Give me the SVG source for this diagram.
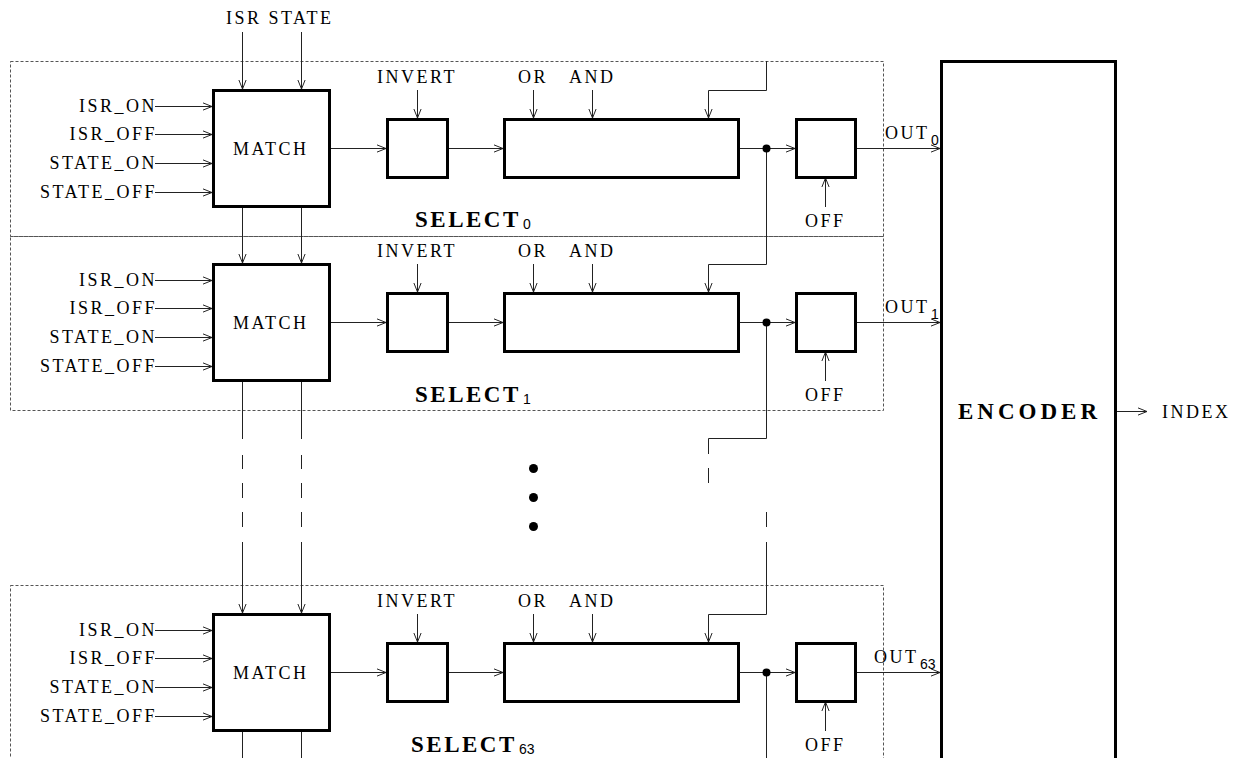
<svg xmlns="http://www.w3.org/2000/svg" width="1240" height="758" viewBox="0 0 1240 758">
<defs>
<style>
.t{font-family:"Liberation Serif","DejaVu Serif",serif;font-size:18px;letter-spacing:2.5px;fill:#000}
.e{text-anchor:end}
.b{font-family:"Liberation Serif","DejaVu Serif",serif;font-size:23px;font-weight:bold;letter-spacing:2.5px;fill:#000}
.s{font-family:"Liberation Sans","DejaVu Sans",sans-serif;font-size:14px;fill:#000}
.box{fill:#fff;stroke:#000;stroke-width:3}
.ln{fill:none;stroke:#222;stroke-width:1}
.ar{fill:none;stroke:#222;stroke-width:1;marker-end:url(#a)}
.frame{fill:none;stroke:#555;stroke-width:1;stroke-dasharray:3 2}
</style>
<marker id="a" viewBox="0 0 10 10" refX="10" refY="5" markerWidth="9" markerHeight="9" markerUnits="userSpaceOnUse" orient="auto">
<path d="M0,1 L10,5 L0,9" fill="none" stroke="#222" stroke-width="1.1"/>
</marker>
</defs>
<rect width="1240" height="758" fill="#fff"/>

<g id="frames">
<rect class="frame" x="10.5" y="61.5" width="873" height="175"/>
<rect class="frame" x="10.5" y="236.5" width="873" height="174"/>
<rect class="frame" x="10.5" y="585.5" width="873" height="200"/>
</g>

<g id="connectors">
<path class="ar" d="M242.5,32 V89"/>
<path class="ar" d="M301.5,32 V89"/>
<path class="ar" d="M242.5,207 V263"/>
<path class="ar" d="M301.5,207 V263"/>
<path class="ln" d="M242.5,382 V439 M242.5,455 V469 M242.5,483 V498 M242.5,512 V527"/>
<path class="ln" d="M301.5,382 V439 M301.5,455 V469 M301.5,483 V498 M301.5,512 V527"/>
<path class="ar" d="M242.5,542 V613"/>
<path class="ar" d="M301.5,542 V613"/>
<path class="ln" d="M242.5,731 V758 M301.5,731 V758"/>

<path class="ar" d="M155,106.5 H212"/>
<path class="ar" d="M155,134.5 H212"/>
<path class="ar" d="M155,163.5 H212"/>
<path class="ar" d="M155,192.5 H212"/>
<path class="ar" d="M155,280.5 H212"/>
<path class="ar" d="M155,308.5 H212"/>
<path class="ar" d="M155,337.5 H212"/>
<path class="ar" d="M155,366.5 H212"/>
<path class="ar" d="M155,630.5 H212"/>
<path class="ar" d="M155,658.5 H212"/>
<path class="ar" d="M155,687.5 H212"/>
<path class="ar" d="M155,716.5 H212"/>

<path class="ar" d="M329,148.5 H386"/>
<path class="ar" d="M447,148.5 H503"/>
<path class="ar" d="M738,148.5 H795"/>
<path class="ar" d="M329,322.5 H386"/>
<path class="ar" d="M447,322.5 H503"/>
<path class="ar" d="M738,322.5 H795"/>
<path class="ar" d="M329,672.5 H386"/>
<path class="ar" d="M447,672.5 H503"/>
<path class="ar" d="M738,672.5 H795"/>

<path class="ar" d="M417.5,90 V118"/>
<path class="ar" d="M533.5,90 V118"/>
<path class="ar" d="M592.5,90 V118"/>
<path class="ar" d="M417.5,264 V292"/>
<path class="ar" d="M533.5,264 V292"/>
<path class="ar" d="M592.5,264 V292"/>
<path class="ar" d="M417.5,614 V642"/>
<path class="ar" d="M533.5,614 V642"/>
<path class="ar" d="M592.5,614 V642"/>

<path class="ar" d="M825.5,207 V178"/>
<path class="ar" d="M825.5,381 V352"/>
<path class="ar" d="M825.5,731 V702"/>

<path class="ar" d="M855,148.5 H940"/>
<path class="ar" d="M855,322.5 H940"/>
<path class="ar" d="M855,672.5 H940"/>

<path class="ar" d="M766.5,61 V90.5 H708.5 V118"/>
<path class="ar" d="M766.5,148 V264.5 H708.5 V292"/>
<path class="ln" d="M766.5,322 V438.5 H708.5 V454 M708.5,468 V483"/>
<path class="ln" d="M766.5,512 V527"/>
<path class="ar" d="M766.5,542 V614.5 H708.5 V642"/>
<path class="ln" d="M766.5,672 V758"/>

<path class="ar" d="M1116,411.5 H1147"/>

<circle cx="766.5" cy="148.5" r="4" fill="#000"/>
<circle cx="766.5" cy="322.5" r="4" fill="#000"/>
<circle cx="766.5" cy="672.5" r="4" fill="#000"/>
</g>

<g id="isr-state-label">
<text class="t" x="226" y="24">ISR STATE</text>
</g>

<g id="select0">
<g id="select0-inputs">
<text class="t e" x="157" y="112">ISR_ON</text>
<text class="t e" x="157" y="140">ISR_OFF</text>
<text class="t e" x="157" y="169">STATE_ON</text>
<text class="t e" x="157" y="198">STATE_OFF</text>
</g>
<g id="match0"><rect class="box" x="213.5" y="90.5" width="116" height="116"/><text class="t" x="233" y="155">MATCH</text></g>
<g id="invert0"><rect class="box" x="387.5" y="119.5" width="60" height="58"/><text class="t" x="377" y="83">INVERT</text></g>
<g id="logic0"><rect class="box" x="504.5" y="119.5" width="234" height="58"/><text class="t" x="518" y="83">OR</text><text class="t" x="569" y="83">AND</text></g>
<g id="off0"><rect class="box" x="796.5" y="119.5" width="59" height="58"/><text class="t" x="805" y="227">OFF</text></g>
<g id="out0"><text class="t" x="885" y="139">OUT</text><text class="s" x="931" y="145">0</text></g>
<g id="label0"><text class="b" x="415" y="227">SELECT</text><text class="s" x="523" y="229">0</text></g>
</g>

<g id="select1">
<g id="select1-inputs">
<text class="t e" x="157" y="286">ISR_ON</text>
<text class="t e" x="157" y="314">ISR_OFF</text>
<text class="t e" x="157" y="343">STATE_ON</text>
<text class="t e" x="157" y="372">STATE_OFF</text>
</g>
<g id="match1"><rect class="box" x="213.5" y="264.5" width="116" height="116"/><text class="t" x="233" y="329">MATCH</text></g>
<g id="invert1"><rect class="box" x="387.5" y="293.5" width="60" height="58"/><text class="t" x="377" y="257">INVERT</text></g>
<g id="logic1"><rect class="box" x="504.5" y="293.5" width="234" height="58"/><text class="t" x="518" y="257">OR</text><text class="t" x="569" y="257">AND</text></g>
<g id="off1"><rect class="box" x="796.5" y="293.5" width="59" height="58"/><text class="t" x="805" y="401">OFF</text></g>
<g id="out1"><text class="t" x="885" y="313">OUT</text><text class="s" x="931" y="319">1</text></g>
<g id="label1"><text class="b" x="415" y="402">SELECT</text><text class="s" x="523" y="404">1</text></g>
</g>

<g id="ellipsis">
<circle cx="533.5" cy="468.5" r="4.5" fill="#000"/>
<circle cx="533.5" cy="497.5" r="4.5" fill="#000"/>
<circle cx="533.5" cy="526.5" r="4.5" fill="#000"/>
</g>

<g id="select63">
<g id="select63-inputs">
<text class="t e" x="157" y="636">ISR_ON</text>
<text class="t e" x="157" y="664">ISR_OFF</text>
<text class="t e" x="157" y="693">STATE_ON</text>
<text class="t e" x="157" y="722">STATE_OFF</text>
</g>
<g id="match63"><rect class="box" x="213.5" y="614.5" width="116" height="116"/><text class="t" x="233" y="679">MATCH</text></g>
<g id="invert63"><rect class="box" x="387.5" y="643.5" width="60" height="58"/><text class="t" x="377" y="607">INVERT</text></g>
<g id="logic63"><rect class="box" x="504.5" y="643.5" width="234" height="58"/><text class="t" x="518" y="607">OR</text><text class="t" x="569" y="607">AND</text></g>
<g id="off63"><rect class="box" x="796.5" y="643.5" width="59" height="58"/><text class="t" x="805" y="751">OFF</text></g>
<g id="out63"><text class="t" x="874" y="663">OUT</text><text class="s" x="920" y="669">63</text></g>
<g id="label63"><text class="b" x="411" y="752">SELECT</text><text class="s" x="519" y="754">63</text></g>
</g>

<g id="encoder">
<rect class="box" x="941.5" y="61.5" width="174" height="720"/>
<text class="b" x="958" y="419" style="letter-spacing:4px">ENCODER</text>
</g>
<g id="index-label">
<text class="t" x="1162" y="418">INDEX</text>
</g>
</svg>
